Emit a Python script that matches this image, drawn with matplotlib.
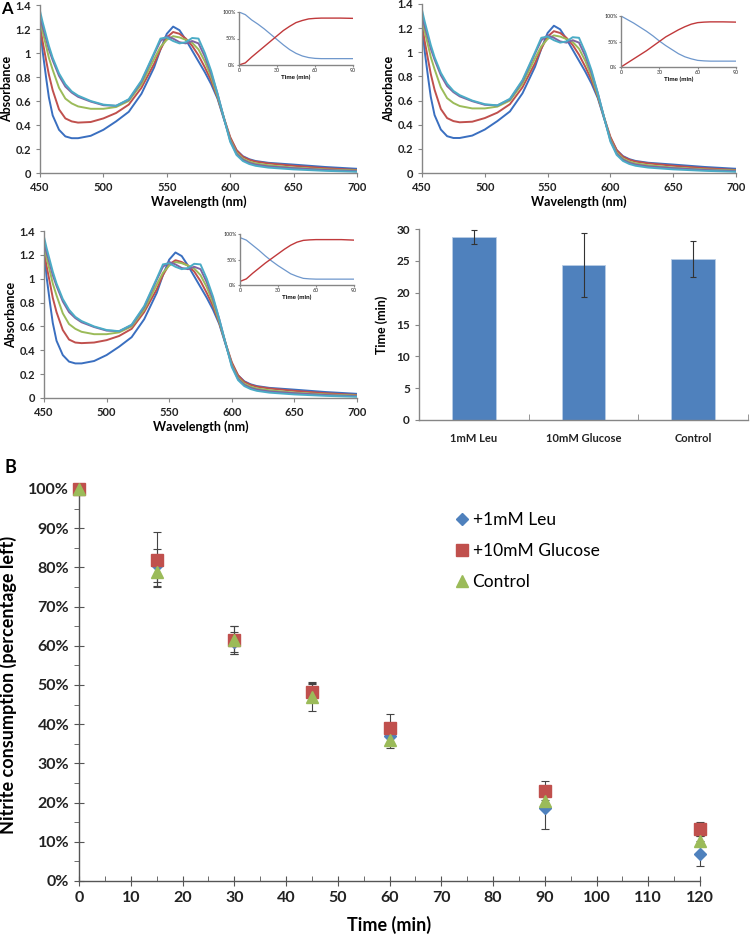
import numpy as np
import matplotlib
matplotlib.use("Agg")
import matplotlib.pyplot as plt
from matplotlib.ticker import MultipleLocator, FuncFormatter

plt.rcParams['font.family'] = ['Lato', 'DejaVu Sans']

W, H = 750, 935

# ---- spectra (panels A) ----
wl = [450, 452, 455, 457, 460, 465, 470, 475, 480, 490, 500, 510, 520, 530, 540, 545,
      550, 555, 560, 565, 570, 575, 580, 585, 590, 595, 600, 605, 610, 615, 620, 630, 650, 675, 700]
spec_blue = [1.25, 1.02, 0.78, 0.63, 0.48, 0.36, 0.305, 0.29, 0.29, 0.31, 0.36, 0.43, 0.51, 0.66, 0.88, 1.03,
             1.16, 1.22, 1.19, 1.11, 1.02, 0.93, 0.84, 0.74, 0.62, 0.45, 0.29, 0.19, 0.14, 0.115, 0.10, 0.085, 0.07, 0.05, 0.035]
spec_red = [1.22, 1.10, 0.93, 0.82, 0.69, 0.53, 0.455, 0.43, 0.42, 0.425, 0.455, 0.50, 0.57, 0.71, 0.91, 1.03,
            1.13, 1.175, 1.16, 1.12, 1.06, 0.98, 0.88, 0.77, 0.63, 0.46, 0.30, 0.19, 0.135, 0.11, 0.095, 0.08, 0.06, 0.04, 0.025]
spec_green = [1.28, 1.18, 1.05, 0.96, 0.86, 0.71, 0.62, 0.58, 0.555, 0.535, 0.535, 0.55, 0.60, 0.74, 0.95, 1.05,
              1.11, 1.14, 1.13, 1.11, 1.085, 1.03, 0.93, 0.80, 0.64, 0.46, 0.28, 0.17, 0.12, 0.095, 0.08, 0.065, 0.045, 0.03, 0.02]
spec_purple = [1.30, 1.22, 1.11, 1.03, 0.94, 0.81, 0.72, 0.67, 0.635, 0.595, 0.565, 0.56, 0.61, 0.76, 0.99, 1.10,
               1.14, 1.12, 1.09, 1.08, 1.10, 1.08, 0.97, 0.83, 0.66, 0.46, 0.27, 0.16, 0.11, 0.085, 0.07, 0.055, 0.04, 0.025, 0.015]
spec_cyan = [1.35, 1.26, 1.14, 1.06, 0.96, 0.83, 0.74, 0.68, 0.645, 0.60, 0.57, 0.56, 0.615, 0.77, 1.00, 1.12,
             1.13, 1.10, 1.08, 1.09, 1.125, 1.12, 1.00, 0.85, 0.66, 0.46, 0.26, 0.15, 0.10, 0.075, 0.06, 0.045, 0.03, 0.018, 0.01]
spec_red_c = [1.22, 1.11, 0.95, 0.84, 0.72, 0.57, 0.49, 0.465, 0.46, 0.465, 0.485, 0.52, 0.58, 0.72, 0.91, 1.03,
              1.12, 1.155, 1.14, 1.11, 1.06, 0.98, 0.88, 0.77, 0.63, 0.46, 0.30, 0.19, 0.135, 0.11, 0.095, 0.08, 0.06, 0.04, 0.025]
spec_colors = ['#3A6FC0', '#C0504D', '#9BBB59', '#8064A2', '#4BACC6']

# ---- inset kinetics ----
inset_t = [0, 5, 10, 15, 20, 25, 30, 35, 40, 45, 50, 55, 60, 65, 70, 80, 90]
ins1_blue = [100, 95, 85, 77, 68, 58, 48, 38, 29, 22, 17, 14, 12.5, 12, 12, 12, 12]
ins1_red = [0, 4, 15, 25, 35, 45, 55, 65, 73, 80, 84, 87, 88, 88.5, 88.5, 88.5, 88]
ins2_blue = [100, 93, 86, 78, 70, 61, 51, 42, 34, 26, 20, 16, 13, 12, 11.5, 11.5, 11.5]
ins2_red = [0, 8, 16, 24, 32, 41, 50, 59, 66, 73, 79, 84, 87, 88, 88.5, 88.5, 88]
ins3_blue = [93, 88, 78, 68, 57, 47, 38, 30, 22, 17, 13, 12, 11.5, 11.5, 11.5, 11.5, 11.5]
ins3_red = [7, 12, 23, 33, 43, 52, 61, 70, 78, 84, 87.5, 88.5, 89, 89, 89, 89, 88]

# ---- bar chart ----
bar_labels = ['1mM Leu', '10mM Glucose', 'Control']
bar_values = [28.7, 24.3, 25.3]
bar_errors = [1.1, 5.0, 2.8]

# ---- panel B ----
time_b = [0, 15, 30, 45, 60, 90, 120]
leu = [100, 80.5, 61, 48, 37, 18.5, 7]
leu_err = [0, 4.3, 2.5, 2.2, 2.5, 5.2, 3.3]
glu = [100, 82, 61.5, 48.3, 39, 23, 13.3]
glu_err = [0, 7, 3.5, 2.4, 3.7, 2.4, 1.7]
ctrl = [100, 78.7, 61.5, 47, 36, 20.5, 10.2]
ctrl_err = [0, 3.5, 3.5, 3.6, 2, 1.5, 1.2]

AX_GRAY = '#868686'


def px_axes(fig, x0, y0, x1, y1):
    return fig.add_axes([x0 / W, 1 - y1 / H, (x1 - x0) / W, (y1 - y0) / H])


def excel_axes(ax):
    for s in ['top', 'right']:
        ax.spines[s].set_visible(False)
    for s in ['left', 'bottom']:
        ax.spines[s].set_color(AX_GRAY)
        ax.spines[s].set_linewidth(1.0)
    ax.tick_params(colors=AX_GRAY, labelcolor='#222222')


def gen_fmt(v, pos):
    return f"{v:.1f}".rstrip('0').rstrip('.')


def spectrum_panel(ax, curves):
    for y, c in zip(curves, spec_colors):
        ax.plot(wl, y, color=c, lw=1.4)
    ax.set_xlim(450, 700)
    ax.set_ylim(0, 1.4)
    ax.xaxis.set_major_locator(MultipleLocator(50))
    ax.yaxis.set_major_locator(MultipleLocator(0.2))
    ax.yaxis.set_major_formatter(FuncFormatter(gen_fmt))
    excel_axes(ax)
    ax.tick_params(labelsize=8, length=3, direction='out')
    for lab in ax.get_xticklabels() + ax.get_yticklabels():
        lab.set_fontweight('bold')
    ax.set_xlabel('Wavelength (nm)', fontsize=9, fontweight='bold', labelpad=2)
    ax.set_ylabel('Absorbance', fontsize=9, fontweight='bold', labelpad=2)


def inset_panel(ax, blue, red):
    ax.plot(inset_t, blue, color='#6E97CC', lw=0.9)
    ax.plot(inset_t, red, color='#C0393B', lw=1.0)
    ax.set_xlim(0, 90)
    ax.set_ylim(0, 100)
    ax.set_xticks([0, 30, 60, 90])
    ax.set_yticks([0, 50, 100])
    ax.set_yticklabels(['0%', '50%', '100%'])
    ax.patch.set_alpha(0)
    excel_axes(ax)
    ax.tick_params(labelsize=3.8, length=1.5, pad=1)
    ax.set_xlabel('Time (min)', fontsize=4.5, fontweight='bold', labelpad=1)


fig = plt.figure(figsize=(W / 100, H / 100), dpi=100)

ax1 = px_axes(fig, 40, 5, 357, 173)
spectrum_panel(ax1, [spec_blue, spec_red, spec_green, spec_purple, spec_cyan])
ax2 = px_axes(fig, 422, 4, 736, 173)
spectrum_panel(ax2, [spec_blue, spec_red, spec_green, spec_purple, spec_cyan])
ax3 = px_axes(fig, 44, 231, 357, 398)
spectrum_panel(ax3, [spec_blue, spec_red_c, spec_green, spec_purple, spec_cyan])

inset_panel(px_axes(fig, 239, 12, 353, 65), ins1_blue, ins1_red)
inset_panel(px_axes(fig, 621, 16, 736, 67), ins2_blue, ins2_red)
inset_panel(px_axes(fig, 240, 234, 354, 285), ins3_blue, ins3_red)

# bar chart
axb = px_axes(fig, 419, 229, 748, 420)
xpos = np.arange(len(bar_labels))
axb.bar(xpos, bar_values, width=0.4, color='#4F81BD', edgecolor='#B9CDE5', lw=0.6,
        yerr=bar_errors, error_kw=dict(ecolor='#333333', elinewidth=0.8, capsize=2.5, capthick=0.8))
axb.set_xlim(-0.5, 2.5)
axb.set_ylim(0, 30)
axb.yaxis.set_major_locator(MultipleLocator(5))
axb.set_xticks(xpos)
axb.set_xticklabels(bar_labels)
axb.tick_params(axis='x', length=0, pad=9)
axb.set_xticks([-0.5, 0.5, 1.5, 2.5], minor=True)
axb.tick_params(axis='x', which='minor', length=4, direction='in', colors=AX_GRAY)
excel_axes(axb)
axb.tick_params(axis='y', labelsize=8.5, length=3)
axb.tick_params(axis='x', labelsize=8)
for lab in axb.get_xticklabels() + axb.get_yticklabels():
    lab.set_fontweight('bold')
axb.set_ylabel('Time (min)', fontsize=9, fontweight='bold', labelpad=6)

# panel B
axB = px_axes(fig, 79, 489, 700, 881)
series = [(leu, leu_err, 'D', 6, '#4F81BD', '+1mM Leu'),
          (glu, glu_err, 's', 8, '#C0504D', '+10mM Glucose'),
          (ctrl, ctrl_err, '^', 8, '#9BBB59', 'Control')]
for vals, errs, mk, ms, col, lab in series:
    axB.errorbar(time_b, vals, yerr=errs, fmt='none', ecolor='#444444', elinewidth=0.8,
                 capsize=3, capthick=0.8, clip_on=False)
for vals, errs, mk, ms, col, lab in series:
    axB.plot(time_b, vals, linestyle='none', marker=mk, ms=ms, color=col, mec=col,
             label=lab, clip_on=False, zorder=3)
axB.set_xlim(0, 120)
axB.set_ylim(0, 100)
axB.xaxis.set_major_locator(MultipleLocator(10))
axB.xaxis.set_minor_locator(MultipleLocator(5))
axB.yaxis.set_major_locator(MultipleLocator(10))
axB.yaxis.set_minor_locator(MultipleLocator(5))
axB.yaxis.set_major_formatter(FuncFormatter(lambda v, p: f"{v:.0f}%"))
excel_axes(axB)
axB.spines['left'].set_color('#555555')
axB.spines['bottom'].set_color('#555555')
axB.tick_params(which='major', labelsize=11.5, length=7, direction='inout', colors='#555555',
                labelcolor='#222222')
axB.tick_params(which='minor', length=3.5, direction='out', colors='#555555')
axB.tick_params(axis='x', which='minor', direction='in')
for lab in axB.get_xticklabels() + axB.get_yticklabels():
    lab.set_fontweight('bold')
axB.set_xlabel('Time (min)', fontsize=13, fontweight='bold', labelpad=8)
axB.set_ylabel('Nitrite consumption (percentage left)', fontsize=13, fontweight='bold', labelpad=8)
axB.legend(frameon=False, loc='upper left', bbox_to_anchor=(0.575, 0.98), fontsize=12.5,
           handletextpad=0.0, handlelength=1.2, labelspacing=0.85, numpoints=1)

fig.text(1 / W, 1 - 9 / H, 'A', fontsize=12, fontweight='bold', va='center')
fig.text(4 / W, 1 - 467 / H, 'B', fontsize=13, fontweight='bold', va='center')

fig.savefig('out.png', dpi=100)
